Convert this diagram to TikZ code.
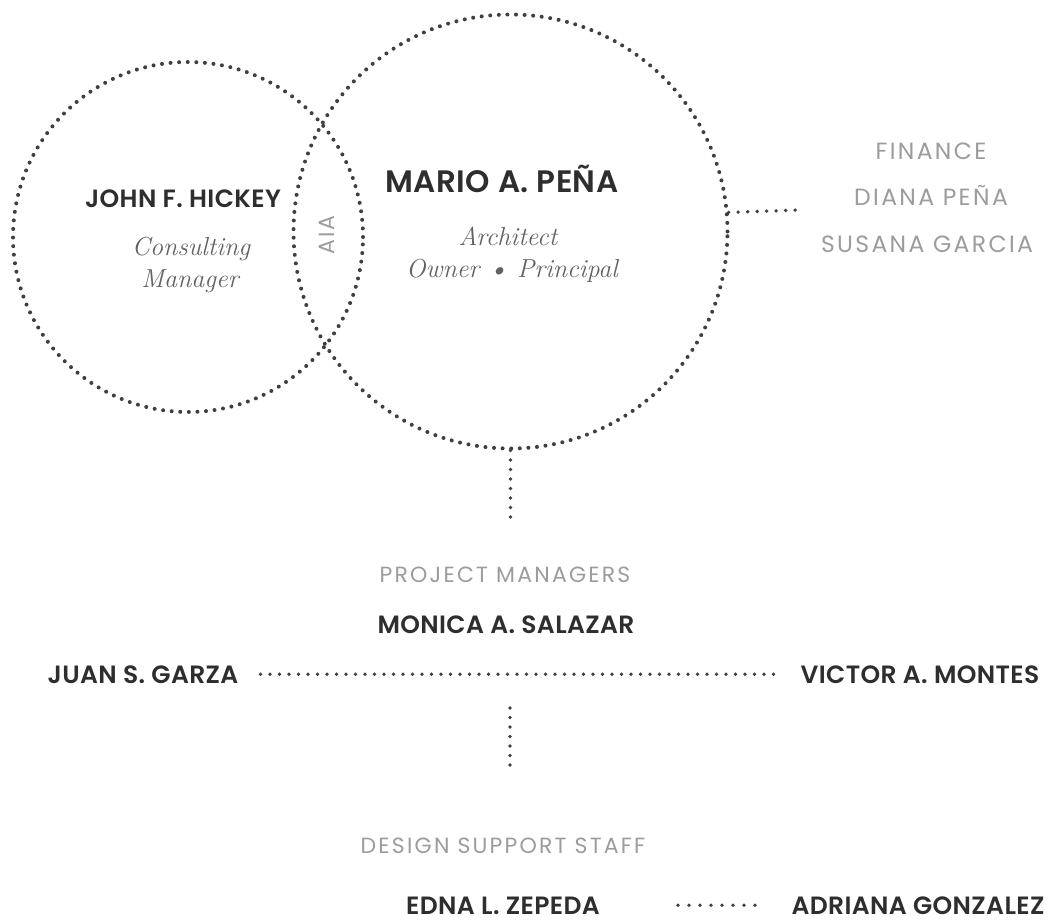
\documentclass[tikz,border=0pt]{standalone}
\usepackage{fontspec}
\newfontfamily\namefont{Poppins SemiBold}[LetterSpace=1.5]
\newfontfamily\grayfont{Poppins}[LetterSpace=10]
\definecolor{dotgray}{HTML}{3F3F3F}
\definecolor{namecol}{HTML}{2E2E2E}
\definecolor{headcol}{HTML}{9C9C9C}
\definecolor{rolecol}{HTML}{626262}
\begin{document}
\begin{tikzpicture}[x=1pt,y=-1pt,
  dotline/.style={draw=dotgray, line width=3.8pt, line cap=round, dash pattern=on 0pt off 9.5pt},
  ring/.style={circle, draw=dotgray, line width=4pt, line cap=round, dash pattern=on 0pt off 8.6pt, inner sep=0pt},
  pname/.style={font=\namefont\fontsize{25}{28}\selectfont, text=namecol, inner sep=0pt, anchor=base},
  bname/.style={font=\namefont\fontsize{31}{34}\selectfont, text=namecol, inner sep=0pt, anchor=base},
  ghead/.style={font=\grayfont\fontsize{22}{26}\selectfont, text=headcol, inner sep=0pt, anchor=base},
  fhead/.style={ghead, font=\grayfont\fontsize{23.5}{27}\selectfont},
  prole/.style={font=\rmfamily\itshape\fontsize{26}{30}\selectfont, text=rolecol, inner sep=0pt, anchor=base}
]
\useasboundingbox (0,0) rectangle (1055,923);
\fill[white] (0,0) rectangle (1055,923);

% circles
\node[ring, minimum size=350pt] (hickeyc) at (188,237) {};
\node[ring, minimum size=434pt] (penac) at (510.5,231.5) {};

% top texts
\node[pname] (hickey) at (183,207) {JOHN F. HICKEY};
\node[prole] (consult) at (191,255) {Consulting};
\node[prole] (manager) at (190,287) {Manager};
\node[ghead, rotate=90, anchor=center] (aia) at (327,235) {AIA};
\node[bname] (pena) at (502,193) {MARIO A. PEÑA};
\node[prole] (architect) at (508,245) {Architect};
\node[prole] (owner) at (512,277) {Owner \textbullet\ Principal};

% finance
\node[fhead] (finance) at (931,160) {FINANCE};
\node[fhead] (diana) at (931,205) {DIANA PEÑA};
\node[fhead] (susana) at (927,252) {SUSANA GARCIA};
\coordinate (finend) at (800,210);
\draw[dotline] (penac.5.5) -- (finend);

% project managers
\coordinate (pmtop) at (510.5,520);
\draw[dotline] (penac.south) -- (pmtop);
\node[ghead] (pm) at (505,582) {PROJECT MANAGERS};
\node[pname] (monica) at (506,633) {MONICA A. SALAZAR};
\node[pname] (juan) at (143,683) {JUAN S. GARZA};
\node[pname] (victor) at (920,683) {VICTOR A. MONTES};
\draw[dotline, shorten <=22pt, shorten >=22pt] (juan.east) -- (victor.west);

% design support staff
\coordinate (dsA) at (510,708);
\coordinate (dsB) at (510,773);
\draw[dotline] (dsA) -- (dsB);
\node[ghead] (dss) at (503,853) {DESIGN SUPPORT STAFF};
\node[pname] (edna) at (503,914) {EDNA L. ZEPEDA};
\node[pname] (adriana) at (918,914) {ADRIANA GONZALEZ};
\draw[dotline, dash pattern=on 0pt off 11pt, shorten <=78pt, shorten >=35pt] (edna.east) -- (adriana.west);
\end{tikzpicture}
\end{document}
